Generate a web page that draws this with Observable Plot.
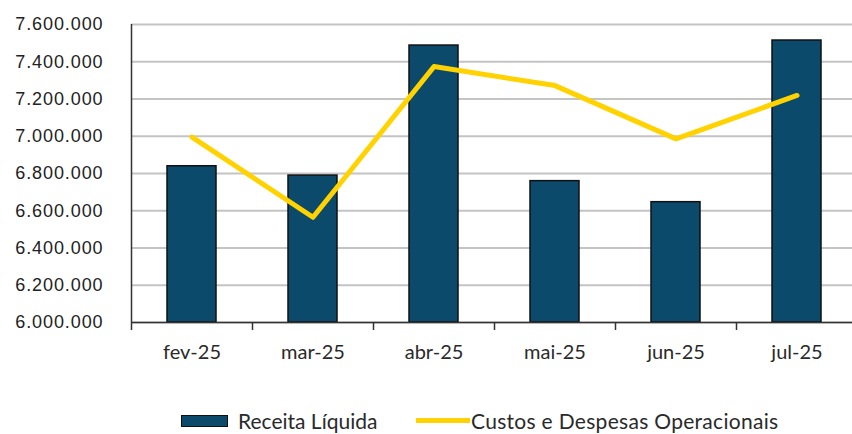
<!DOCTYPE html>
<html>
<head>
<meta charset="utf-8">
<script src="https://cdn.jsdelivr.net/npm/d3@7"></script>
<script src="https://cdn.jsdelivr.net/npm/@observablehq/plot@0.6"></script>
<style>
  body { margin: 0; background: #fff; width: 852px; height: 434px; overflow: hidden; }
  #chart svg { display: block; }
  #chart g[aria-label="y-axis tick label"] text { font-family: "Liberation Sans", Arial, sans-serif; font-size: 18px; letter-spacing: 0.9px; fill: #222; }
  #chart g[aria-label="x-axis tick label"] text { font-family: Lato, sans-serif; font-size: 20px; fill: #2a2a2a; }
  .legend { position: relative; height: 27px; font-family: Lato, sans-serif; font-size: 21px; color: #2a2a2a; }
  .legend .item { position: absolute; top: 0; display: flex; align-items: center; height: 27px; }
  .sw-bar { width: 45px; height: 10px; background: #0b4a6b; border: 1px solid #111; margin-right: 10px; }
  .sw-line { width: 54px; height: 5px; background: #FFD200; margin-right: 1px; }
  #l2 { letter-spacing: 0.3px; }
</style>
</head>
<body>
<div id="chart"></div>
<div class="legend">
  <div class="item" style="left:181px"><div class="sw-bar"></div><span id="l1"></span></div>
  <div class="item" style="left:416px"><div class="sw-line"></div><span id="l2"></span></div>
</div>
<script>
const categories = ["fev-25", "mar-25", "abr-25", "mai-25", "jun-25", "jul-25"];
const receitaLiquida = [6839000, 6789000, 7487000, 6759000, 6646000, 7514000];
const custosDespesas = [6995000, 6565000, 7374000, 7272000, 6986000, 7219000];
const yTicks = [6000000, 6200000, 6400000, 6600000, 6800000, 7000000, 7200000, 7400000, 7600000];
const seriesNames = ["Receita Líquida", "Custos e Despesas Operacionais"];

document.getElementById("l1").textContent = seriesNames[0];
document.getElementById("l2").textContent = seriesNames[1];

const data = categories.map((c, i) => ({cat: c, receita: receitaLiquida[i], custos: custosDespesas[i]}));

const xRange = [131, 857];
const step = (xRange[1] - xRange[0]) / categories.length;
const fmt = d => d3.format(",")(d).replace(/,/g, ".");

const chart = Plot.plot({
  width: 852,
  height: 407,
  marginLeft: 131,
  marginRight: 0,
  marginTop: 24,
  marginBottom: 85,
  style: {background: "#fff"},
  x: {domain: categories, range: xRange, paddingInner: 0.595, paddingOuter: 0.2975},
  y: {domain: [yTicks[0], yTicks[yTicks.length - 1]]},
  marks: [
    Plot.gridY(yTicks, {stroke: "#c4c4c4", strokeOpacity: 1, strokeWidth: 2}),
    Plot.barY(data, {x: "cat", y1: yTicks[0], y2: "receita", fill: "#0b4a6b", stroke: "#111", strokeWidth: 1.5}),
    Plot.lineY(data, {x: "cat", y: "custos", stroke: "#FFD200", strokeWidth: 5}),
    Plot.ruleY([yTicks[0]], {stroke: "#333", strokeWidth: 1.5}),
    Plot.ruleX([categories[0]], {x: d => d, dx: -step / 2, stroke: "#333", strokeWidth: 1.5, insetBottom: -8}),
    Plot.ruleX(categories.slice(1), {x: d => d, dx: -step / 2, y1: yTicks[0], y2: yTicks[0], insetBottom: -8, stroke: "#333", strokeWidth: 1.5}),
    Plot.axisY(yTicks, {tickSize: 0, tickPadding: 28, tickFormat: fmt, label: null}),
    Plot.axisX({tickSize: 0, tickPadding: 22, label: null})
  ]
});
document.getElementById("chart").appendChild(chart);
</script>
</body>
</html>
